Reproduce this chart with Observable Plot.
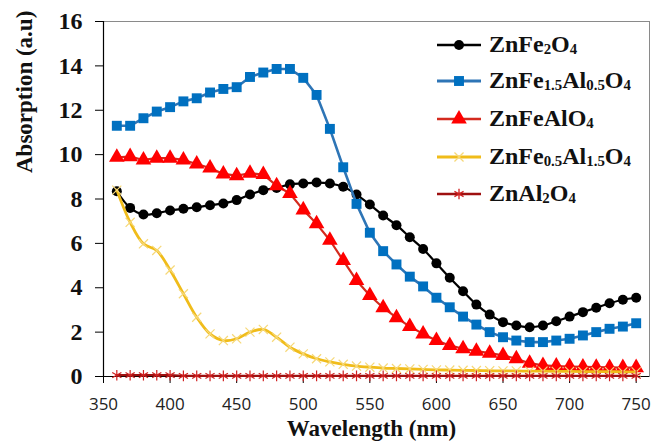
<!DOCTYPE html>
<html><head><meta charset="utf-8">
<script src="https://cdn.jsdelivr.net/npm/d3@7"></script>
<script src="https://cdn.jsdelivr.net/npm/@observablehq/plot@0.6"></script>
<style>
html,body{margin:0;padding:0;background:#fff;}
#wrap{position:relative;width:651px;height:448px;overflow:hidden;}
#wrap svg.plot{display:block;}
.row{position:absolute;left:436px;display:flex;align-items:center;white-space:nowrap;
  font-family:"Liberation Serif","Times New Roman",serif;font-weight:bold;font-size:24px;color:#111;line-height:1;}
.row svg{margin-right:7px;}
.row sub{font-size:0.62em;vertical-align:-0.15em;}
</style></head><body>
<div id="wrap"></div>
<script>
// ---- data ----
const wavelength = [360,370,380,390,400,410,420,430,440,450,460,470,480,490,500,510,520,530,540,550,
                    560,570,580,590,600,610,620,630,640,650,660,670,680,690,700,710,720,730,740,750];
const seriesNames = ["ZnFe2O4","ZnFe1.5Al0.5O4","ZnFeAlO4","ZnFe0.5Al1.5O4","ZnAl2O4"];
const znFe2O4 = [8.35,7.6,7.3,7.36,7.48,7.56,7.63,7.72,7.8,7.95,8.2,8.4,8.5,8.66,8.7,8.74,8.7,8.55,8.2,7.75,
                 7.26,6.82,6.28,5.75,5.1,4.45,3.84,3.24,2.79,2.45,2.3,2.22,2.3,2.49,2.7,2.9,3.1,3.3,3.46,3.55];
const znFe15Al05O4 = [11.3,11.3,11.64,11.94,12.14,12.4,12.54,12.8,12.96,13.04,13.5,13.7,13.86,13.86,13.46,12.69,11.16,9.43,7.78,6.48,
                      5.65,5.05,4.5,4.06,3.55,3.12,2.7,2.34,2.0,1.77,1.62,1.55,1.55,1.62,1.7,1.85,2.0,2.15,2.25,2.4];
const znFeAlO4 = [9.88,9.91,9.76,9.84,9.84,9.76,9.58,9.4,9.13,9.05,9.16,9.1,8.6,8.25,7.51,6.88,6.14,5.23,4.33,3.65,
                  3.1,2.65,2.25,1.92,1.62,1.4,1.25,1.14,1.05,0.95,0.8,0.6,0.5,0.47,0.45,0.43,0.42,0.41,0.4,0.4];
const znFe05Al15O4 = [8.4,6.95,5.98,5.68,4.8,3.73,2.67,1.92,1.62,1.7,2.0,2.12,1.77,1.32,1.02,0.8,0.66,0.55,0.47,0.42,
                      0.38,0.36,0.34,0.32,0.3,0.29,0.28,0.27,0.26,0.25,0.25,0.24,0.24,0.23,0.23,0.22,0.22,0.22,0.21,0.21];
const znAl2O4 = [0.06,0.06,0.06,0.06,0.06,0.03,0.03,0.03,0.03,0.03,0.03,0.03,0.03,0.03,0.03,0.03,0.03,0.03,0.03,0.03,
                 0.03,0.03,0.03,0.03,0.03,0.03,0.03,0.03,0.03,0.03,0.03,0.03,0.03,0.03,0.03,0.03,0.03,0.03,0.03,0.03];
const xTicks = [350,400,450,500,550,600,650,700,750];
const yTicks = [0,2,4,6,8,10,12,14,16];
const xTitle = "Wavelength (nm)";
const yTitle = "Absorption (a.u)";

// ---- styles ----
const styles = [
  {line:"#000000", lw:2.2, symbol:"circle",   r:5,   fill:"#000000", stroke:null, curve:"catmull-rom"},
  {line:"#2E75B6", lw:2.6, symbol:"square",   r:5.6, fill:"#0070C0", stroke:null, curve:"linear"},
  {line:"#D42A1E", lw:2.2, symbol:"triangle", r:5.8, fill:"#FF0000", stroke:null, curve:"linear"},
  {line:"#F0BC1A", lw:2.8, symbol:"times",    r:4.2, fill:"none",    stroke:"#F6D878", curve:"catmull-rom"},
  {line:"#9E1010", lw:2.2, symbol:"asterisk", r:5,   fill:"none",    stroke:"#D02020", curve:"linear"}
];
const allValues = [znFe2O4, znFe15Al05O4, znFeAlO4, znFe05Al15O4, znAl2O4];
const rows = [];
seriesNames.forEach((s, k) => allValues[k].forEach((v, i) => rows.push({series: s, wavelength: wavelength[i], value: v})));

const marks = [
  Plot.frame({stroke: "#8a8a8a", strokeWidth: 1}),
  Plot.ruleY([0], {stroke: "#000", strokeWidth: 1.2}),
  Plot.ruleX([350], {stroke: "#000", strokeWidth: 1.2}),
  Plot.axisX({ticks: xTicks, tickSize: 7, tickPadding: 14, fontSize: 17, fontFamily: "Open Sans", fill: "#222",
              tickFormat: d => String(d), label: null}),
  Plot.axisY({ticks: yTicks, tickSize: 8, tickPadding: 13, fontSize: 24, fontFamily: "Liberation Serif",
              fontWeight: "bold", fill: "#111", tickFormat: d => String(d), label: null}),
  Plot.text([xTitle], {frameAnchor: "bottom", dy: 59, dx: -5, fontSize: 23, fontWeight: "bold",
              fontFamily: "Liberation Serif", fill: "#111"}),
  Plot.text([yTitle], {frameAnchor: "left", dx: -79, dy: -26, rotate: -90, fontSize: 23, fontWeight: "bold",
              fontFamily: "Liberation Serif", fill: "#111"})
];
seriesNames.forEach((s, k) => {
  const st = styles[k];
  const data = rows.filter(d => d.series === s);
  marks.push(Plot.line(data, {x: "wavelength", y: "value", stroke: st.line, strokeWidth: st.lw, curve: st.curve}));
  const dotOpts = {x: "wavelength", y: "value", symbol: st.symbol, r: st.r};
  if (st.stroke) { dotOpts.stroke = st.stroke; dotOpts.strokeWidth = 1.2; dotOpts.fill = "none"; }
  else { dotOpts.fill = st.fill; dotOpts.stroke = "none"; }
  marks.push(Plot.dot(data, dotOpts));
});

const chart = Plot.plot({
  width: 651, height: 448,
  marginLeft: 103, marginRight: 2, marginTop: 21, marginBottom: 72,
  x: {domain: [350, 760]},
  y: {domain: [0, 16]},
  style: {background: "#fff", overflow: "visible"},
  marks
});
chart.classList.add("plot");
const wrap = document.getElementById("wrap");
wrap.appendChild(chart);

// ---- legend (HTML overlay) ----
const rowCenters = [45, 81, 119, 157, 194];
const symMap = {circle: d3.symbolCircle, square: d3.symbolSquare, triangle: d3.symbolTriangle,
                times: d3.symbolTimes, asterisk: d3.symbolAsterisk};
seriesNames.forEach((s, k) => {
  const st = styles[k];
  const row = document.createElement("div");
  row.className = "row";
  row.style.top = (rowCenters[k] - 12) + "px";
  row.style.height = "24px";
  const svg = d3.create("svg").attr("width", 46).attr("height", 24);
  svg.append("line").attr("x1", 1).attr("x2", 45).attr("y1", 12).attr("y2", 12)
     .attr("stroke", st.line).attr("stroke-width", st.lw + 0.4);
  const path = d3.symbol(symMap[st.symbol], Math.PI * st.r * st.r)();
  svg.append("path").attr("d", path).attr("transform", "translate(23,12)")
     .attr("fill", st.stroke ? "none" : st.fill).attr("stroke", st.stroke ? st.stroke : "none")
     .attr("stroke-width", 1.3);
  row.appendChild(svg.node());
  const label = document.createElement("span");
  label.innerHTML = s.replace(/(\d+(?:\.\d+)?)/g, "<sub>$1</sub>");
  row.appendChild(label);
  wrap.appendChild(row);
});
</script>
</body></html>
